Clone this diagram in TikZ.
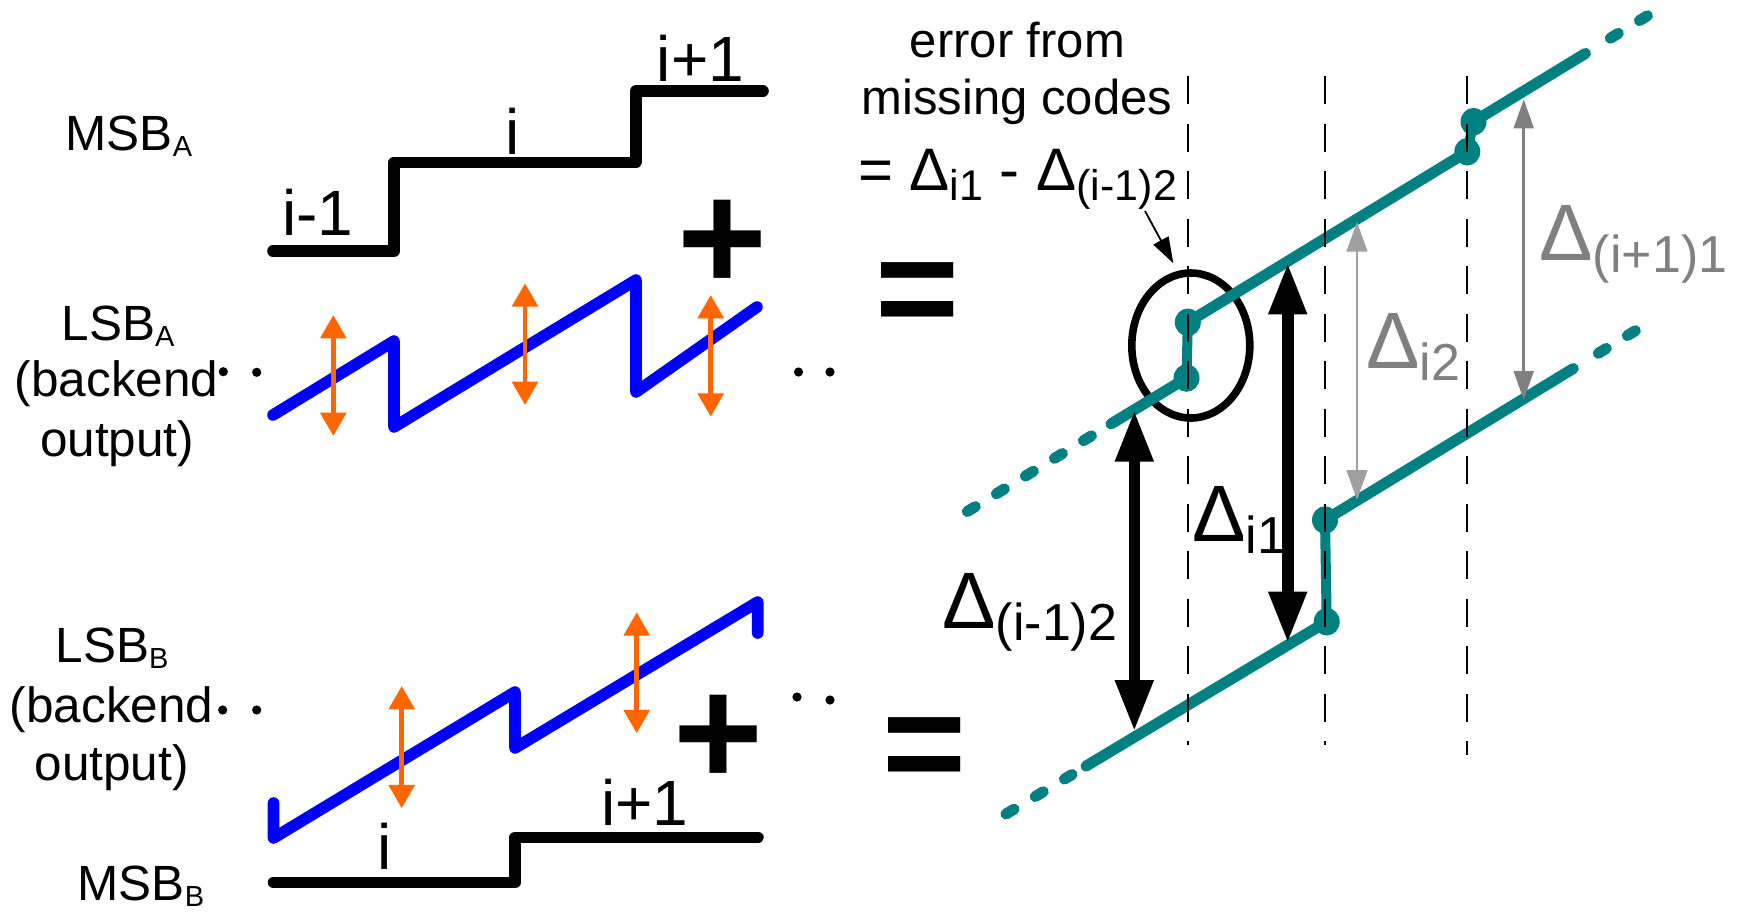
\documentclass[tikz,border=0pt]{standalone}
\usepackage{fontspec}
\setmainfont{Liberation Sans}
\usetikzlibrary{arrows.meta}
\definecolor{tealc}{RGB}{0,128,128}
\definecolor{bluec}{RGB}{0,0,255}
\definecolor{orangec}{RGB}{255,102,0}
\definecolor{grayc}{RGB}{128,128,128}
\definecolor{lgrayc}{RGB}{160,160,160}
\newcommand{\lowsub}[1]{\raisebox{-3pt}{\fontsize{14.5}{14.5}\selectfont #1}}
\newcommand{\bigdel}[1]{{\fontsize{40}{40}\selectfont Δ\raisebox{-6pt}{\fontsize{26}{26}\selectfont #1}}}
\newcommand{\middel}[1]{Δ\raisebox{-5pt}{\fontsize{21.5}{21.5}\selectfont #1}}
\begin{document}
\begin{tikzpicture}[x=0.5pt,y=-0.5pt,
  lbl/.style={inner sep=0pt, anchor=base, font=\fontsize{24.75}{29}\selectfont},
  stairlbl/.style={inner sep=0pt, anchor=base, font=\fontsize{32}{36}\selectfont},
  opsym/.style={inner sep=0pt, anchor=base, font=\fontsize{77}{77}\selectfont\bfseries},
  eqsym/.style={inner sep=0pt, anchor=base, font=\fontsize{72}{72}\selectfont\bfseries},
  dlbl/.style={inner sep=0pt, anchor=base west},
  stairline/.style={line width=5.8pt, line cap=round, line join=round},
  sawline/.style={line width=5.8pt, bluec, line cap=round, line join=round},
  oarrow/.style={orangec, line width=2.4pt, {Triangle[length=11.7pt,width=12.7pt]}-{Triangle[length=11.7pt,width=12.7pt]}},
  tline/.style={tealc, line width=5.5pt, line cap=round, line join=round},
  tdash/.style={tline, dash pattern=on 4.7pt off 12.3pt},
  tjump/.style={tealc, line width=5pt},
  tdot/.style={tealc, fill=tealc, draw=none},
  vdash/.style={black, line width=1pt, dash pattern=on 14pt off 9.75pt},
  bigarrow/.style={black, line width=5.8pt, {Triangle[length=25.8pt,width=17.8pt]}-{Triangle[length=25.8pt,width=17.8pt]}},
  grayarrow/.style={grayc, line width=1.6pt, {Triangle[length=14.5pt,width=9.8pt]}-{Triangle[length=14.5pt,width=9.8pt]}},
  lgrayarrow/.style={lgrayc, line width=1.45pt, {Triangle[length=15pt,width=10.3pt]}-{Triangle[length=15pt,width=10.3pt]}},
  thinarrow/.style={black, line width=0.9pt, -{Triangle[length=13pt,width=8.5pt]}},
  blackdot/.style={fill=black, draw=none}
]
\useasboundingbox (0,0) rectangle (1739,911);

% ---------------- left labels ----------------
\node[lbl] (msbA) at (129,150.7) {MSB\lowsub{A}};
\node[lbl] (lsbA) at (118,340) {LSB\lowsub{A}};
\node[lbl] (lsbAb) at (116.7,396.7) {(backend};
\node[lbl] (lsbAo) at (117.2,456.7) {output)};
\node[lbl] (lsbB) at (112,662.7) {LSB\lowsub{B}};
\node[lbl] (lsbBb) at (111.7,722.7) {(backend};
\node[lbl] (lsbBo) at (111.7,780) {output)};
\node[lbl] (msbB) at (141,900.5) {MSB\lowsub{B}};

% ---------------- MSB_A staircase ----------------
\coordinate (sa0) at (273,251);
\coordinate (sa1) at (394,251);
\coordinate (sa2) at (394,162.3);
\coordinate (sa3) at (636,162.3);
\coordinate (sa4) at (636,91);
\coordinate (sa5) at (763,91);
\draw[stairline] (sa0) -- (sa1) -- (sa2) -- (sa3) -- (sa4) -- (sa5);
\node[stairlbl] (sai1) at (318,235) {i-1};
\node[stairlbl] (sai) at (513,154) {i};
\node[stairlbl] (saip) at (700.5,81) {i+1};

% ---------------- LSB_A sawtooth ----------------
\coordinate (wa0) at (273,415);
\coordinate (wa1) at (394,341);
\coordinate (wa2) at (394,427);
\coordinate (wa3) at (636,280);
\coordinate (wa4) at (636,392);
\coordinate (wa5) at (757,307);
\draw[sawline] (wa0) -- (wa1) -- (wa2) -- (wa3) -- (wa4) -- (wa5);
\coordinate (oa1t) at (333.3,315); \coordinate (oa1b) at (333.3,436);
\coordinate (oa2t) at (525,283.3); \coordinate (oa2b) at (525,405);
\coordinate (oa3t) at (710.7,295); \coordinate (oa3b) at (710.7,416.7);
\draw[oarrow] (oa1t) -- (oa1b);
\draw[oarrow] (oa2t) -- (oa2b);
\draw[oarrow] (oa3t) -- (oa3b);

% ---------------- LSB_B sawtooth ----------------
\coordinate (wb0) at (273.5,803);
\coordinate (wb1) at (273.5,838);
\coordinate (wb2) at (515,692);
\coordinate (wb3) at (515,748);
\coordinate (wb4) at (757.7,602);
\coordinate (wb5) at (757.7,633);
\draw[sawline] (wb0) -- (wb1) -- (wb2) -- (wb3) -- (wb4) -- (wb5);
\coordinate (ob1t) at (401.7,686); \coordinate (ob1b) at (401.7,808.3);
\coordinate (ob2t) at (636.7,612.3); \coordinate (ob2b) at (636.7,733.3);
\draw[oarrow] (ob1t) -- (ob1b);
\draw[oarrow] (ob2t) -- (ob2b);

% ---------------- MSB_B staircase ----------------
\coordinate (sb0) at (273.5,882.5);
\coordinate (sb1) at (515,882.5);
\coordinate (sb2) at (515,837.3);
\coordinate (sb3) at (758,837.3);
\draw[stairline] (sb0) -- (sb1) -- (sb2) -- (sb3);
\node[stairlbl] (sbi) at (385,869) {i};
\node[stairlbl] (sbip) at (645,825) {i+1};

% ---------------- operators and dots ----------------
\node[opsym] (plusA) at (722.5,290) {+};
\node[opsym] (plusB) at (718,785) {+};
\node[eqsym] (eqA) at (917.5,337.5) {=};
\node[eqsym] (eqB) at (925,792.5) {=};

\fill[blackdot] (223.3,371.7) circle[radius=2.3pt];
\fill[blackdot] (256.7,372.3) circle[radius=2.3pt];
\fill[blackdot] (798.5,372) circle[radius=2.3pt];
\fill[blackdot] (830,372) circle[radius=2.3pt];
\fill[blackdot] (222.7,710) circle[radius=2.3pt];
\fill[blackdot] (256.7,710) circle[radius=2.3pt];
\fill[blackdot] (797,697) circle[radius=2.3pt];
\fill[blackdot] (830,700) circle[radius=2.3pt];

% ---------------- top text ----------------
\node[lbl, font=\fontsize{24.5}{29}\selectfont] (err1) at (1017.5,57.3) {error from};
\node[lbl, font=\fontsize{24.5}{29}\selectfont] (err2) at (1017,114) {missing codes};
\node[lbl, font=\fontsize{30}{30}\selectfont] (err3) at (1017.5,190) {= \middel{i1} - \middel{(i-1)2}};

% ---------------- right: ellipse ----------------
\draw[black, line width=3.8pt] (1190.8,345.5) ellipse[x radius=29.5pt, y radius=36.25pt];

% ---------------- right: teal transfer curves ----------------
\coordinate (A1) at (1186.5,378);
\coordinate (A2) at (1187.8,322.3);
\coordinate (A3) at (1467.3,151.7);
\coordinate (A4) at (1473.5,121.7);
\coordinate (UL) at (1111,423.9);
\coordinate (UR) at (1585.5,53.4);
\coordinate (B1) at (1326.7,621.7);
\coordinate (B2) at (1325,520);
\coordinate (LL) at (1086,766.1);
\coordinate (LR) at (1573.3,368.5);
\coordinate (ULd0) at (967.3,511.5); \coordinate (ULd1) at (1097,432.4);
\coordinate (URd0) at (1610.3,38.2); \coordinate (URd1) at (1648,15.4);
\coordinate (LLd0) at (1006,814); \coordinate (LLd1) at (1072,774.5);
\coordinate (LRd0) at (1598.3,353.3); \coordinate (LRd1) at (1637.3,329.5);

\draw[tdash] (ULd0) -- (ULd1);
\draw[tline] (UL) -- (A1);
\draw[tjump] (A1) -- (A2);
\draw[tline] (A2) -- (A3);
\draw[tjump] (A3) -- (A4);
\draw[tline] (A4) -- (UR);
\draw[tdash] (URd0) -- (URd1);

\draw[tdash] (LLd0) -- (LLd1);
\draw[tline] (LL) -- (B1);
\draw[tjump] (B1) -- (B2);
\draw[tline] (B2) -- (LR);
\draw[tdash] (LRd0) -- (LRd1);

\foreach \p in {A1,A2,A3,A4,B1,B2}
  \fill[tdot] (\p) ellipse[x radius=6.5pt, y radius=6.9pt];

% ---------------- vertical dashed lines ----------------
\coordinate (v1t) at (1187.7,76); \coordinate (v1b) at (1187.7,745);
\coordinate (v2t) at (1325,76); \coordinate (v2b) at (1325,745);
\coordinate (v3t) at (1467.3,76); \coordinate (v3b) at (1467.3,755);
\draw[vdash] (v1t) -- (v1b);
\draw[vdash] (v2t) -- (v2b);
\draw[vdash] (v3t) -- (v3b);

% ---------------- arrows ----------------
\coordinate (d12t) at (1134.3,410); \coordinate (d12b) at (1134.3,731.7);
\coordinate (di1t) at (1287.7,262.7); \coordinate (di1b) at (1287.7,643.3);
\coordinate (di2t) at (1357,221.7); \coordinate (di2b) at (1357,500);
\coordinate (dp1t) at (1523.7,99.3); \coordinate (dp1b) at (1523.7,400);
\coordinate (pt0) at (1145,211); \coordinate (pt1) at (1173.3,263.3);
\draw[bigarrow] (d12t) -- (d12b);
\draw[bigarrow] (di1t) -- (di1b);
\draw[lgrayarrow] (di2t) -- (di2b);
\draw[grayarrow] (dp1t) -- (dp1b);
\draw[thinarrow] (pt0) -- (pt1);

% ---------------- delta labels ----------------
\node[dlbl] (Ld12) at (942,628.3) {\bigdel{(i-1)2}};
\node[dlbl] (Ldi1) at (1192,541.7) {\bigdel{i1}};
\node[dlbl, text=grayc] (Ldi2) at (1366,368.3) {\bigdel{i2}};
\node[dlbl, text=grayc] (Ldp1) at (1539,260.7) {\bigdel{(i+1)1}};
\end{tikzpicture}
\end{document}
